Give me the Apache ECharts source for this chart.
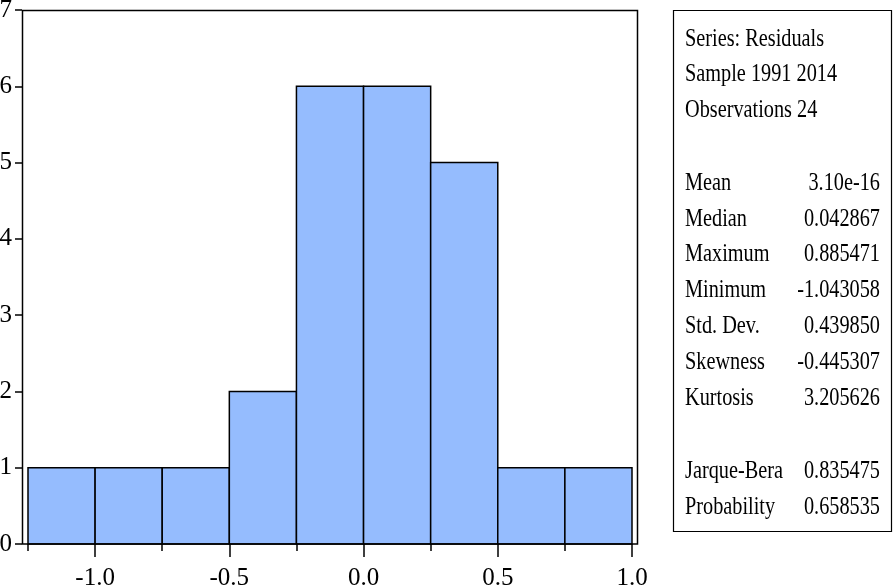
<!DOCTYPE html>
<html>
<head>
<meta charset="utf-8">
<script src="https://cdn.jsdelivr.net/npm/echarts@6/dist/echarts.min.js"></script>
<style>html,body{margin:0;padding:0;background:#fff}#c{width:895px;height:587px}</style>
</head>
<body>
<div id="c"></div>
<script>
// Histogram bins (edges) and counts
var binStarts = [-1.25, -1.0, -0.75, -0.5, -0.25, 0.0, 0.25, 0.5, 0.75];
var binWidth = 0.25;
var counts = [1, 1, 1, 2, 6, 6, 5, 1, 1];
var yTicks = [0, 1, 2, 3, 4, 5, 6, 7];
var xMajorTicks = [-1.0, -0.5, 0.0, 0.5, 1.0];

// Statistics panel
var headerLines = ['Series: Residuals', 'Sample 1991 2014', 'Observations 24'];
var statNames = ['Mean', 'Median', 'Maximum', 'Minimum', 'Std. Dev.', 'Skewness', 'Kurtosis'];
var statValues = ['3.10e-16', '0.042867', '0.885471', '-1.043058', '0.439850', '-0.445307', '3.205626'];
var testNames = ['Jarque-Bera', 'Probability'];
var testValues = ['0.835475', '0.658535'];

var FONT = '"Liberation Serif","Times New Roman",serif';
var chart = echarts.init(document.getElementById('c'), null, {renderer: 'canvas'});

var data = binStarts.map(function (s, i) { return [s, s + binWidth, counts[i]]; });

var SX = 0.78;
function txt(t, x, y, align) {
  return {type: 'text', x: x, y: y, scaleX: SX, z: 20,
    style: {text: t, fontSize: 26, fontFamily: FONT, fill: '#000', textAlign: align, textVerticalAlign: 'middle'}};
}
var graphics = [];
// plot frame
graphics.push({type: 'rect', shape: {x: 22.5, y: 10.5, width: 615, height: 533.5},
  style: {fill: 'none', stroke: '#000', lineWidth: 1.5}, z: 10});
// stats box
graphics.push({type: 'rect', shape: {x: 673.5, y: 10.5, width: 218, height: 521},
  style: {fill: 'none', stroke: '#000', lineWidth: 1.2}, z: 10});
headerLines.forEach(function (t, i) { graphics.push(txt(t, 685, 39 + i * 35.5, 'left')); });
statNames.forEach(function (t, i) {
  graphics.push(txt(t, 685, 183 + i * 35.8, 'left'));
  graphics.push(txt(statValues[i], 880, 183 + i * 35.8, 'right'));
});
testNames.forEach(function (t, i) {
  graphics.push(txt(t, 685, 471 + i * 36, 'left'));
  graphics.push(txt(testValues[i], 880, 471 + i * 36, 'right'));
});

chart.setOption({
  animation: false,
  backgroundColor: '#fff',
  grid: {left: 28, right: 895 - 632, top: 10, bottom: 587 - 544, containLabel: false, outerBoundsMode: 'none'},
  xAxis: [
    {type: 'value', position: 'bottom', min: -1.25, max: 1.0, interval: 0.25,
      axisLine: {show: false, onZero: false}, splitLine: {show: false},
      axisTick: {show: true, length: 7, lineStyle: {color: '#000', width: 1.5}},
      axisLabel: {show: false}},
    {type: 'value', position: 'bottom', offset: 0, min: -1.25, max: 1.0, interval: 0.25,
      axisLine: {show: false, onZero: false}, splitLine: {show: false},
      axisTick: {show: true, length: 13, customValues: xMajorTicks, lineStyle: {color: '#000', width: 1.5}},
      axisLabel: {show: true, margin: 22, color: '#000', fontSize: 25, fontFamily: FONT,
        customValues: xMajorTicks,
        formatter: function (v) { return v.toFixed(1); }}}
  ],
  yAxis: {type: 'value', min: 0, max: 7, interval: 1, offset: 6,
      axisLine: {show: false, onZero: false}, splitLine: {show: false},
      axisTick: {show: true, length: 7, lineStyle: {color: '#000', width: 1.5}},
      axisLabel: {show: true, margin: 10, color: '#000', fontSize: 25, fontFamily: FONT,
        formatter: function (v) { return yTicks.indexOf(v) >= 0 ? String(v) : ''; }}},
  series: [{
    type: 'custom',
    xAxisIndex: 0, yAxisIndex: 0,
    data: data,
    renderItem: function (params, api) {
      var p0 = api.coord([api.value(0), api.value(2)]);
      var p1 = api.coord([api.value(1), 0]);
      return {
        type: 'rect',
        shape: {x: p0[0], y: p0[1], width: p1[0] - p0[0], height: p1[1] - p0[1]},
        style: {fill: '#95BCFE', stroke: '#000', lineWidth: 1.5}
      };
    }
  }],
  graphic: graphics
});
</script>
</body>
</html>
